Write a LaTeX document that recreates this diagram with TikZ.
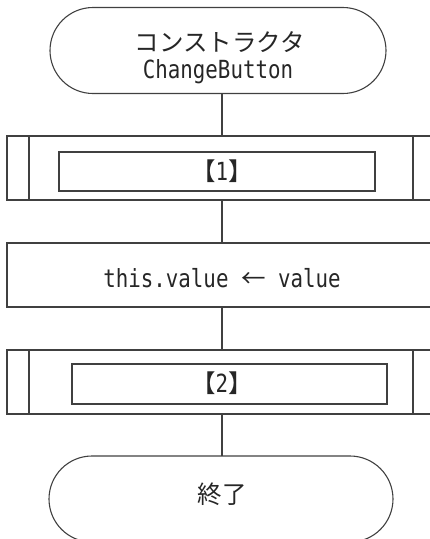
\documentclass[tikz,border=0pt]{standalone}
\usepackage{graphicx}
\usepackage{fontspec}
\newfontfamily\jp{Noto Sans CJK JP}
\newfontfamily\mono{DejaVu Sans Mono}
\newcommand{\lat}[1]{\scalebox{1}[1.2]{\mono\fontsize{20.8}{24}\selectfont #1}}
\begin{document}
\begin{tikzpicture}[x=1pt,y=-1pt,
  ln/.style={draw=black!75, line width=1.1pt},
  term/.style={ln, rounded corners=43pt},
  txt/.style={font=\jp\fontsize{24.5}{28}\selectfont, text=black!85, inner sep=0pt},
]
\useasboundingbox (0,0) rectangle (430,539);
\begin{scope}
\clip (0,0) rectangle (430,539);
% top terminal
\draw[term] (50,7.5) rectangle (386,93.5);
\coordinate (t1b) at (222,93.5);
\node[txt] (t1a) at (220,42) {コンストラクタ};
\node[txt] (t1c) at (218,72) {\lat{ChangeButton}};
% predefined process 1
\draw[ln] (7,136) rectangle (440,200);
\draw[ln] (29,136) -- (29,200);
\draw[ln] (413,136) -- (413,200);
\draw[ln] (59,152) rectangle (375,191);
\node[txt] (p1) at (222,171) {【\lat{1}】};
\coordinate (p1t) at (222,136);
\coordinate (p1b) at (222,200);
% process
\draw[ln] (7,243) rectangle (440,307);
\node[txt] (pr) at (222,278) {\lat{this.value }←\lat{ value}};
\coordinate (prt) at (222,243);
\coordinate (prb) at (222,307);
% predefined process 2
\draw[ln] (7,350) rectangle (440,414);
\draw[ln] (29,350) -- (29,414);
\draw[ln] (413,350) -- (413,414);
\draw[ln] (72,364) rectangle (387,404);
\node[txt] (p2) at (222,383) {【\lat{2}】};
\coordinate (p2t) at (222,350);
\coordinate (p2b) at (222,414);
% end terminal
\draw[term] (49,456) rectangle (393,542);
\coordinate (t2t) at (222,456);
\node[txt] (t2) at (222,494) {終了};
% connectors
\draw[ln] (t1b) -- (p1t);
\draw[ln] (p1b) -- (prt);
\draw[ln] (prb) -- (p2t);
\draw[ln] (p2b) -- (t2t);
\end{scope}
\end{tikzpicture}
\end{document}
